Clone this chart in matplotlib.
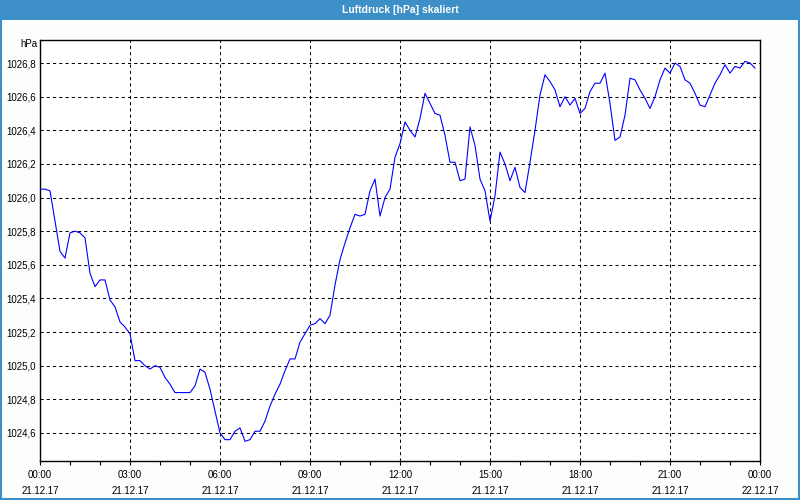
"""
Luftdruck [hPa] skaliert - 21.12.17, 10-Minuten-Werte
"""

import pandas as pd
import matplotlib.pyplot as plt
import matplotlib.dates as mdates
from matplotlib.patches import Rectangle
from matplotlib.lines import Line2D
from matplotlib.ticker import FuncFormatter, MultipleLocator

# Data (every 10 minutes from 00:00 to 23:50)
start_time = '2017-12-21 00:00'
end_time = '2017-12-22 00:00'
pressure_hpa = [
    1026.05, 1026.05, 1026.04, 1025.86, 1025.68, 1025.64, 1025.79, 1025.80, 1025.79, 1025.76,
    1025.55, 1025.47, 1025.51, 1025.51, 1025.39, 1025.35, 1025.26, 1025.23, 1025.19, 1025.03,
    1025.03, 1025.00, 1024.98, 1025.00, 1024.99, 1024.93, 1024.89, 1024.84, 1024.84, 1024.84,
    1024.84, 1024.88, 1024.98, 1024.96, 1024.86, 1024.73, 1024.60, 1024.56, 1024.56, 1024.61,
    1024.63, 1024.55, 1024.56, 1024.61, 1024.61, 1024.67, 1024.76, 1024.83, 1024.89, 1024.97,
    1025.04, 1025.04, 1025.14, 1025.19, 1025.24, 1025.25, 1025.28, 1025.25, 1025.30, 1025.48,
    1025.63, 1025.73, 1025.82, 1025.90, 1025.89, 1025.90, 1026.04, 1026.11, 1025.89, 1026.00,
    1026.05, 1026.24, 1026.32, 1026.45, 1026.40, 1026.36, 1026.47, 1026.62, 1026.56, 1026.50,
    1026.49, 1026.37, 1026.21, 1026.21, 1026.10, 1026.11, 1026.42, 1026.31, 1026.11, 1026.04,
    1025.86, 1026.01, 1026.27, 1026.20, 1026.10, 1026.18, 1026.06, 1026.03, 1026.21, 1026.40,
    1026.61, 1026.73, 1026.69, 1026.64, 1026.54, 1026.60, 1026.55, 1026.59, 1026.50, 1026.53,
    1026.63, 1026.68, 1026.68, 1026.74, 1026.56, 1026.34, 1026.36, 1026.49, 1026.71, 1026.70,
    1026.64, 1026.59, 1026.53, 1026.60, 1026.70, 1026.77, 1026.74, 1026.80, 1026.78, 1026.70,
    1026.68, 1026.62, 1026.55, 1026.54, 1026.61, 1026.68, 1026.73, 1026.79, 1026.74, 1026.78,
    1026.77, 1026.81, 1026.80, 1026.77,
]
y_ticks = [1024.6, 1024.8, 1025.0, 1025.2, 1025.4, 1025.6, 1025.8, 1026.0, 1026.2, 1026.4, 1026.6, 1026.8]
title_text = 'Luftdruck [hPa] skaliert'
unit_text = 'hPa'

times = pd.date_range(start_time, periods=len(pressure_hpa), freq='10min')

# Style
FONT = 'Liberation Sans'
BAR_BLUE = '#3d8fc7'
plt.rcParams['font.family'] = FONT
plt.rcParams['font.size'] = 7

fig = plt.figure(figsize=(8, 5), dpi=100, facecolor='#fcfdfc')
ax = fig.add_axes([0.05, 0.079, 0.90, 0.841])
ax.set_facecolor('white')

# Window title bar and border
fig.patches.append(Rectangle((0, 0.96), 1, 0.04, transform=fig.transFigure,
                             facecolor=BAR_BLUE, edgecolor='none', zorder=0))
fig.text(0.5, 0.98, title_text, ha='center', va='center', color='white',
         fontsize=7.5, fontweight='bold')
for xs, ys in [([0.0008, 0.0008], [0, 1]), ([0.9985, 0.9985], [0, 1]), ([0, 1], [0.0015, 0.0015])]:
    fig.lines.append(Line2D(xs, ys, transform=fig.transFigure, color=BAR_BLUE, linewidth=1.5))

# Data line
ax.plot(times, pressure_hpa, color='#0000ff', linewidth=0.8, zorder=3)

# Axes
ax.set_xlim(pd.Timestamp(start_time), pd.Timestamp(end_time))
ax.set_ylim(1024.436, 1026.937)
ax.set_yticks(y_ticks)
ax.yaxis.set_major_formatter(FuncFormatter(lambda v, p: f'{v:.1f}'.replace('.', ',')))
ax.tick_params(axis='y', length=0, pad=3, labelsize=7)

ax.xaxis.set_major_locator(mdates.HourLocator(byhour=range(0, 24, 3)))
ax.xaxis.set_minor_locator(mdates.HourLocator())
ax.xaxis.set_major_formatter(FuncFormatter(
    lambda v, p: mdates.num2date(v).strftime('%H:%M\n%d.%m.%y')))
ax.tick_params(axis='x', which='both', length=3, width=0.8, direction='out', pad=4, labelsize=7)
for lbl in ax.get_xticklabels():
    lbl.set_linespacing(1.7)

ax.grid(True, which='major', color='black', linestyle=(0, (3, 3)), linewidth=0.75)
for s in ax.spines.values():
    s.set_color('black')
    s.set_linewidth(1.0)

# Unit label above the y axis
ax.text(-0.004, 0.99, unit_text, transform=ax.transAxes, ha='right', va='center', fontsize=7)

plt.savefig('out.png', dpi=100, facecolor=fig.get_facecolor())
